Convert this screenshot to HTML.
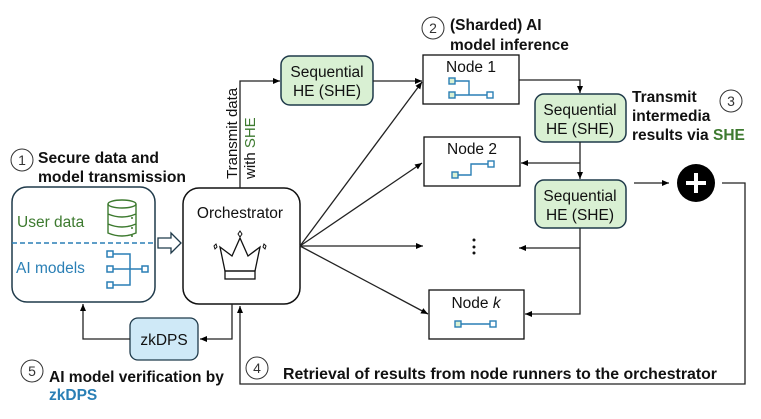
<!DOCTYPE html>
<html><head><style>html,body{margin:0;padding:0;background:#fff}svg{display:block}text{font-family:"Liberation Sans",sans-serif}</style></head><body>
<svg width="761" height="419" viewBox="0 0 761 419" xmlns="http://www.w3.org/2000/svg">
<defs>
<marker id="a" markerWidth="8" markerHeight="8" refX="7" refY="4" orient="auto" markerUnits="userSpaceOnUse"><path d="M0,1 L7,4 L0,7 Z" fill="#000"/></marker>
</defs>
<g fill="none" stroke="#222" stroke-width="1.3">
<rect x="12" y="187" width="143" height="115" rx="15" stroke="#1f3a4a" stroke-width="1.5"/>
<line x1="12" y1="243" x2="155" y2="243" stroke="#2a7fb5" stroke-width="1.5" stroke-dasharray="5,3"/>
<path d="M158,238 H171 V233 L181,243 L171,253 V248 H158 Z" stroke="#1f3a4a" stroke-width="1.3" fill="#fff"/>
<rect x="183" y="188" width="117" height="116" rx="16" stroke="#111" stroke-width="1.5"/>
<path d="M225,271 L220,247 L232,256 L240,238 L248,256 L260,247 L255,271 Z" stroke="#111"/>
<rect x="225" y="271" width="30" height="8" stroke="#111"/>
<path d="M240,231 l2,3 l-2,3 l-2,-3 Z M214,246 l2,-2 l1,3 l-2,2 Z M266,246 l-2,-2 l-1,3 l2,2 Z" stroke="#111" stroke-width="1"/>
<rect x="130" y="318" width="68" height="42" rx="8" fill="#cfe9f7" stroke="#1f3a4a"/>
<path d="M232,304 V339 H200" marker-end="url(#a)"/>
<path d="M130,339 H83 V304" marker-end="url(#a)"/>
<path d="M722,183 H745 V384 H240 V306" marker-end="url(#a)"/>
<path d="M240,188 V81 H280" marker-end="url(#a)"/>
<rect x="281" y="56" width="92" height="49" rx="9" fill="#d9f0d3" stroke="#1f3a4a" stroke-width="1.5"/>
<line x1="373" y1="81" x2="422" y2="81" marker-end="url(#a)"/>
<rect x="423" y="55" width="96" height="49" stroke="#111"/>
<rect x="424" y="137" width="96" height="49" stroke="#111"/>
<rect x="429" y="290" width="95" height="49" stroke="#111"/>
<line x1="300" y1="246" x2="422" y2="82" marker-end="url(#a)"/>
<line x1="300" y1="246" x2="422" y2="163" marker-end="url(#a)"/>
<line x1="300" y1="246" x2="423" y2="246" marker-end="url(#a)"/>
<line x1="300" y1="246" x2="428" y2="314" marker-end="url(#a)"/>
<path d="M519,80 H580 V93" marker-end="url(#a)"/>
<rect x="535" y="94" width="91" height="48" rx="9" fill="#d9f0d3" stroke="#1f3a4a" stroke-width="1.5"/>
<path d="M580,142 V179" marker-end="url(#a)"/>
<path d="M580,163 H521" marker-end="url(#a)"/>
<rect x="535" y="180" width="91" height="48" rx="9" fill="#d9f0d3" stroke="#1f3a4a" stroke-width="1.5"/>
<path d="M580,228 V314 H525" marker-end="url(#a)"/>
<path d="M580,248 H519" marker-end="url(#a)"/>
<line x1="634" y1="183" x2="669" y2="183" marker-end="url(#a)"/>
</g>
<circle cx="696" cy="183" r="19" fill="#000"/>
<path d="M686,183 H706 M696,173 V193" stroke="#fff" stroke-width="4"/>
<g fill="none" stroke="#3d7a2f" stroke-width="1.4">
<ellipse cx="122" cy="204" rx="14" ry="4"/>
<path d="M108,204 V233 Q122,239 136,233 V204 M108,214 Q122,220 136,214 M108,224 Q122,230 136,224"/>
</g>
<g fill="#3d7a2f"><circle cx="132" cy="218" r="1"/><circle cx="132" cy="228" r="1"/><circle cx="132" cy="236" r="1"/></g>
<g fill="none" stroke="#2a7fb5" stroke-width="1.5">
<rect x="107" y="251" width="6" height="6"/><rect x="107" y="266" width="6" height="6"/><rect x="107" y="282" width="6" height="6"/><rect x="142" y="266" width="6" height="6"/>
<path d="M113,254 H130 V285 H113 M113,269 H142"/>
</g>
<g stroke="#2a7fb5" stroke-width="1.4">
<rect x="449" y="78" width="6" height="6" fill="#d9f0d3"/><rect x="449" y="92" width="6" height="6" fill="#d9f0d3"/><rect x="487" y="92" width="6" height="6" fill="#fff"/>
<path d="M455,81 H469 V95 M455,95 H487" fill="none"/>
<rect x="452" y="172" width="6" height="6" fill="#d9f0d3"/><rect x="488" y="161" width="6" height="6" fill="#fff"/>
<path d="M458,175 H471 V164 H488" fill="none"/>
<rect x="455" y="321" width="6" height="6" fill="#d9f0d3"/><rect x="490" y="321" width="6" height="6" fill="#fff"/>
<path d="M461,324 H490" fill="none"/>
</g>
<g fill="#111"><circle cx="474" cy="240" r="1.5"/><circle cx="474" cy="247" r="1.5"/><circle cx="474" cy="253" r="1.5"/></g>
<g font-size="15.5" fill="#111" text-anchor="middle">
<text x="327" y="77">Sequential</text><text x="327" y="96">HE (SHE)</text>
<text x="580" y="115">Sequential</text><text x="580" y="134">HE (SHE)</text>
<text x="580" y="201">Sequential</text><text x="580" y="220">HE (SHE)</text>
<text x="471" y="72">Node 1</text><text x="472" y="154">Node 2</text>
<text x="476" y="308">Node <tspan font-style="italic">k</tspan></text>
<text x="240" y="218">Orchestrator</text>
<text x="164" y="345">zkDPS</text>
</g>
<text x="17" y="227" font-size="15.5" fill="#3d7a2f">User data</text>
<text x="16" y="273" font-size="15.5" fill="#2a7fb5">AI models</text>
<g font-size="15">
<text transform="translate(237,179) rotate(-90)" fill="#111">Transmit data</text>
<text transform="translate(255,179) rotate(-90)" fill="#111">with <tspan fill="#3d7a2f">SHE</tspan></text>
</g>
<g fill="none" stroke="#333" stroke-width="1"><circle cx="22" cy="160" r="11"/><circle cx="433" cy="28" r="11"/><circle cx="731" cy="101" r="11"/><circle cx="32" cy="371" r="11"/><circle cx="257" cy="368" r="11"/></g>
<g font-size="14" fill="#333" text-anchor="middle"><text x="22" y="165">1</text><text x="433" y="33">2</text><text x="731" y="106">3</text><text x="32" y="376">5</text><text x="257" y="373">4</text></g>
<g font-size="15.5" font-weight="bold" fill="#111">
<text x="38" y="163" textLength="121" lengthAdjust="spacingAndGlyphs">Secure data and</text><text x="38" y="182" textLength="148" lengthAdjust="spacingAndGlyphs">model transmission</text>
<text x="450" y="30">(Sharded) AI</text><text x="450" y="50">model inference</text>
<text x="632" y="102">Transmit</text><text x="632" y="121">intermedia</text><text x="632" y="140">results via <tspan fill="#3d7a2f">SHE</tspan></text>
<text x="49" y="382">AI model verification by</text><text x="49" y="400" fill="#2a7fb5">zkDPS</text>
<text x="283" y="379" textLength="434" lengthAdjust="spacingAndGlyphs">Retrieval of results from node runners to the orchestrator</text>
</g>
</svg>
</body></html>
